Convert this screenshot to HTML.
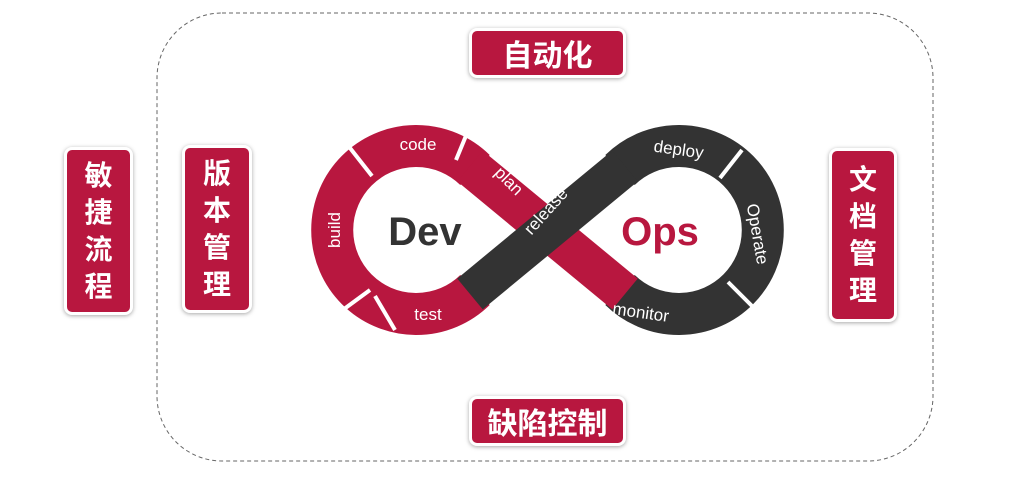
<!DOCTYPE html>
<html><head><meta charset="utf-8"><style>
body{margin:0;width:1014px;height:484px;background:#fff;overflow:hidden;position:relative;font-family:"Liberation Sans","Noto Sans CJK SC",sans-serif}
.b{position:absolute;background:#b8173f;border:3px solid #fff;border-radius:8px;box-shadow:0 1px 4px rgba(0,0,0,.35);color:#fff;font-weight:bold;font-size:30px;display:flex;align-items:center;justify-content:center;box-sizing:border-box;text-align:center}
.v{font-size:28px;line-height:37px}
</style></head><body>
<svg width="1014" height="484" style="position:absolute;left:0;top:0">
<rect x="157" y="13" width="776" height="448" rx="65" fill="none" stroke="#666" stroke-width="1" stroke-dasharray="4,3"/>
<g fill="none" stroke-width="42">
<path d="M475,170 A84,84 0 1 0 475,290" stroke="#b8173f"/>
<path d="M620,290 A84,84 0 1 0 620,170" stroke="#333"/>
<path d="M470,166 L625,294" stroke="#b8173f" stroke-width="40"/>
<path d="M625,166 L470,294" stroke="#333" stroke-width="40"/>
</g>
<g stroke="#fff" stroke-width="4">
<line x1="350" y1="148" x2="372" y2="176"/><line x1="340" y1="312" x2="370" y2="290"/>
<line x1="470" y1="126" x2="456" y2="160"/><line x1="375" y1="296" x2="395" y2="330"/>
<line x1="742" y1="150" x2="720" y2="178"/><line x1="752" y1="306" x2="728" y2="282"/>
<line x1="570" y1="295" x2="600" y2="305"/>
</g>
<g fill="#fff" font-family="Liberation Sans,sans-serif" font-size="17" text-anchor="middle">
<text x="418" y="150">code</text>
<text x="340" y="230" transform="rotate(-90 340 230)">build</text>
<text x="428" y="320">test</text>
<text x="505" y="185" transform="rotate(45 505 185)">plan</text>
<text x="550" y="215" transform="rotate(-48 550 215)">release</text>
<text x="678" y="155" transform="rotate(8 678 155)">deploy</text>
<text x="752" y="235" transform="rotate(80 752 235)">Operate</text>
<text x="640" y="318" transform="rotate(8 640 318)">monitor</text>
</g>
<text x="425" y="245" font-family="Liberation Sans,sans-serif" font-weight="bold" font-size="40" fill="#333" text-anchor="middle">Dev</text>
<text x="660" y="245" font-family="Liberation Sans,sans-serif" font-weight="bold" font-size="40" fill="#b8173f" text-anchor="middle">Ops</text>
</svg>
<div class="b v" style="left:64px;top:147px;width:69px;height:168px">敏<br>捷<br>流<br>程</div>
<div class="b v" style="left:182px;top:145px;width:70px;height:168px">版<br>本<br>管<br>理</div>
<div class="b v" style="left:829px;top:148px;width:68px;height:174px">文<br>档<br>管<br>理</div>
<div class="b" style="left:469px;top:28px;width:157px;height:50px">自动化</div>
<div class="b" style="left:469px;top:396px;width:157px;height:50px">缺陷控制</div>
</body></html>
